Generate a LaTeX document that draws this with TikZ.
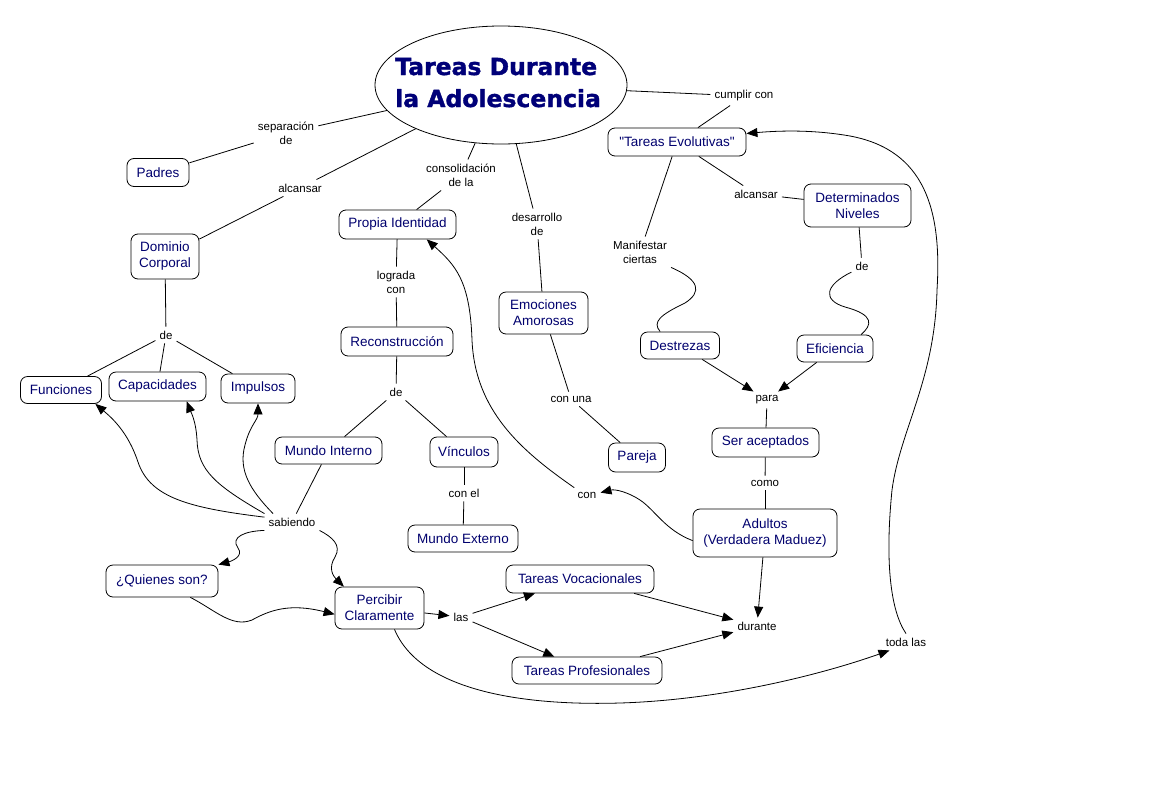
\documentclass[tikz,border=0pt]{standalone}
\usepackage{fontspec}
\setmainfont{Liberation Sans}
\newfontfamily\titlefont{DejaVu Sans}[BoldFeatures={FakeBold=1.5}]
\usetikzlibrary{shapes.geometric,arrows.meta}
\definecolor{nodetext}{RGB}{0,0,110}
\definecolor{titlecol}{RGB}{0,0,120}
\newcommand\qdbl{\XeTeXglyph\XeTeXcharglyph"22\relax}
\begin{document}
\begin{tikzpicture}[x=1pt,y=-1pt,
  box/.style={draw, rounded corners=7pt, line width=0.8pt, fill=white, text=nodetext,
    font=\fontsize{13.5}{16}\selectfont, align=center, inner sep=2pt},
  lnk/.style={font=\fontsize{11.5}{14}\selectfont, align=center, inner sep=4pt},
  conn/.style={line width=0.8pt},
  arr/.style={line width=0.8pt, -{Triangle[length=11pt,width=9pt]}},
  titletxt/.style={text=titlecol, font=\titlefont\bfseries\fontsize{23.5}{32}\selectfont, inner sep=0pt, anchor=base west}
]
\fill[white] (0,0) rectangle (1169,790);
\useasboundingbox (0,0) rectangle (1169,790);

% title
\node[ellipse, draw, line width=0.8pt, minimum width=252pt, minimum height=118pt, inner sep=0pt] (title) at (501,85) {};
\node[titletxt] (t1) at (395,75) {Tareas Durante};
\node[titletxt] (t2) at (395,107) {la Adolescencia};

% concept boxes
\node[box, minimum width=62pt,  minimum height=28pt] (padres)  at (158,172.5) {Padres};
\node[box, minimum width=68pt,  minimum height=45pt] (dominio) at (165,256.5) {Dominio\\Corporal};
\node[box, minimum width=117pt, minimum height=29pt] (propia)  at (397.5,224.5) {Propia Identidad};
\node[box, minimum width=89pt,  minimum height=42pt] (emoc)    at (543.5,313) {Emociones\\Amorosas};
\node[box, minimum width=138pt, minimum height=28pt] (tevol)   at (677,142) {\qdbl Tareas Evolutivas\qdbl};
\node[box, minimum width=107pt, minimum height=43pt] (detniv)  at (857.5,205.5) {Determinados\\Niveles};
\node[box, minimum width=79pt,  minimum height=27pt] (destr)   at (680,345.5) {Destrezas};
\node[box, minimum width=76pt,  minimum height=27pt] (efic)    at (835,348.5) {Eficiencia};
\node[box, minimum width=81pt,  minimum height=27pt] (func)    at (61,390) {Funciones};
\node[box, minimum width=97pt,  minimum height=29pt] (cap)     at (157.5,386.5) {Capacidades};
\node[box, minimum width=74pt,  minimum height=29pt] (imp)     at (258,388.5) {Impulsos};
\node[box, minimum width=112pt, minimum height=29pt] (recon)   at (397,341.5) {Reconstrucción};
\node[box, minimum width=107pt, minimum height=27pt] (mint)    at (328.5,450.5) {Mundo Interno};
\node[box, minimum width=68pt,  minimum height=30pt] (vinc)    at (464,452) {Vínculos};
\node[box, minimum width=57pt,  minimum height=29pt] (pareja)  at (637,457.5) {Pareja};
\node[box, minimum width=107pt, minimum height=29pt] (serac)   at (765.5,442.5) {Ser aceptados};
\node[box, minimum width=144pt, minimum height=48pt] (adultos) at (765,533) {Adultos\\(Verdadera Maduez)};
\node[box, minimum width=110pt, minimum height=27pt] (mext)    at (463,538.5) {Mundo Externo};
\node[box, minimum width=112pt, minimum height=32pt] (quien)   at (162,581) {¿Quienes son?};
\node[box, minimum width=89pt,  minimum height=42pt] (perc)    at (379.5,608) {Percibir\\Claramente};
\node[box, minimum width=148pt, minimum height=28pt] (tvoc)    at (580,579) {Tareas Vocacionales};
\node[box, minimum width=150pt, minimum height=27pt] (tprof)   at (587,670.5) {Tareas Profesionales};

% linking phrases
\node[lnk] (sep)    at (286,133) {separación\\de};
\node[lnk] (alc1)   at (300,188) {alcansar};
\node[lnk] (cons)   at (461,175) {consolidación\\de la};
\node[lnk] (desa)   at (537,224) {desarrollo\\de};
\node[lnk] (cump)   at (744,96)  {cumplir con};
\node[lnk] (alc2)   at (756,194) {alcansar};
\node[lnk] (mani)   at (640,252) {Manifestar\\ciertas};
\node[lnk] (deR)    at (862,266) {de};
\node[lnk] (deL)    at (166,335) {de};
\node[lnk] (logr)   at (396,282) {lograda\\con};
\node[lnk] (deM)    at (396,392) {de};
\node[lnk] (conuna) at (571,399) {con una};
\node[lnk] (conel)  at (464,493) {con el};
\node[lnk] (para)   at (767,400) {para};
\node[lnk] (como)   at (765,483) {como};
\node[lnk] (con)    at (587,495) {con};
\node[lnk] (sab)    at (292,522) {sabiendo};
\node[lnk] (las)    at (461,617) {las};
\node[lnk] (dur)    at (757,626) {durante};
\node[lnk] (toda)   at (906,642) {toda las};

% plain connectors
\draw[conn] (title) -- (sep);   \draw[conn] (sep) -- (padres);
\draw[conn] (title) -- (alc1);  \draw[conn] (alc1) -- (dominio);
\draw[conn] (title) -- (cons);  \draw[conn] (cons) -- (propia);
\draw[conn] (title) -- (desa);  \draw[conn] (desa) -- (emoc);
\draw[conn] (title) -- (cump);  \draw[conn] (cump) -- (tevol);
\draw[conn] (tevol) -- (alc2);  \draw[conn] (alc2) -- (detniv);
\draw[conn] (tevol) -- (mani);
\draw[conn] (detniv) -- (deR);
\draw[conn] (dominio) -- (deL);
\draw[conn] (deL) -- (func); \draw[conn] (deL) -- (cap); \draw[conn] (deL) -- (imp);
\draw[conn] (propia) -- (logr); \draw[conn] (logr) -- (recon);
\draw[conn] (recon) -- (deM); \draw[conn] (deM) -- (mint); \draw[conn] (deM) -- (vinc);
\draw[conn] (vinc) -- (conel); \draw[conn] (conel) -- (mext);
\draw[conn] (emoc) -- (conuna); \draw[conn] (conuna) -- (pareja);
\draw[conn] (para) -- (serac);
\draw[conn] (serac) -- (como); \draw[conn] (como) -- (adultos);
\draw[conn] (mint) -- (sab);

% wavy plain connectors
\draw[conn] (mani.south east) .. controls (700,280) and (702,292) .. (685,303)
  .. controls (660,315) and (652,322) .. (destr.145);
\draw[conn] (deR.210) .. controls (825,285) and (822,300) .. (845,307)
  .. controls (875,315) and (872,325) .. (efic.28);

% straight arrows
\draw[arr] (destr) -- (para);
\draw[arr] (efic) -- (para);
\draw[arr] (adultos) -- (dur);
\draw[arr] (tvoc) -- (dur);
\draw[arr] (tprof) -- (dur);
\draw[arr] (perc) -- (las);
\draw[arr] (las) -- (tvoc);
\draw[arr] (las) -- (tprof);

% curved arrows
\draw[arr] (sab.170) .. controls (190,508) and (150,498) .. (138,462)
  .. controls (128,432) and (112,418) .. (func.-22);
\draw[arr] (sab.north west) .. controls (215,485) and (198,470) .. (197,440)
  .. controls (196,420) and (190,410) .. (cap.-27);
\draw[arr] (sab.156) .. controls (250,490) and (238,470) .. (245,445)
  .. controls (250,425) and (258,420) .. (imp.south);
\draw[arr] (sab.south west) .. controls (245,531) and (230,537) .. (238,548)
  .. controls (244,556) and (232,561) .. (quien.north east);
\draw[arr] (sab.south east) .. controls (332,537) and (342,545) .. (335,557)
  .. controls (328,568) and (333,576) .. (perc.149);
\draw[arr] (quien.-30) .. controls (215,610) and (232,628) .. (252,620)
  .. controls (270,610) and (290,603) .. (perc.188);
\draw[arr] (perc.-55) .. controls (420,690) and (520,706) .. (620,703)
  .. controls (720,700) and (820,675) .. (toda.207);
\draw[arr] (toda.north) .. controls (890,610) and (885,560) .. (892,490)
  .. controls (900,430) and (935,380) .. (937,290)
  .. controls (942,210) and (925,150) .. (850,136)
  .. controls (810,129) and (775,131) .. (tevol.7);
\draw[arr] (adultos.186) .. controls (665,530) and (655,510) .. (640,500)
  .. controls (628,492) and (615,489) .. (con.10);
\draw[arr] (con.150) .. controls (520,450) and (475,410) .. (472,340)
  .. controls (470,280) and (455,265) .. (propia.-27);
\end{tikzpicture}
\end{document}
